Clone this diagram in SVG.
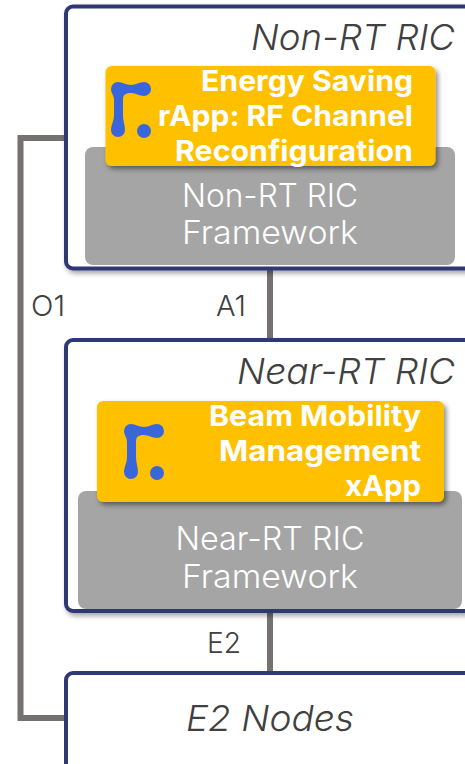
<svg xmlns="http://www.w3.org/2000/svg" width="465" height="764" viewBox="0 0 465 764">
<style>
text{font-family:Inter,"Open Sans","Liberation Sans",sans-serif}
.box{fill:#fff;stroke:#2f3975;stroke-width:4}
.fw{fill:#a5a5a5}
.app{fill:#ffc000;filter:url(#sh)}
.title{font-size:36px;font-weight:300;font-style:italic;fill:#404040}
.fwt{font-size:33px;font-weight:300;fill:#fff;text-anchor:middle}
.appt{font-size:29px;font-weight:700;fill:#fff}
.lbl{font-size:29px;font-weight:300;fill:#404040}
.c{fill:none;stroke:#767171;stroke-width:6}
.logo{fill:#3a66dc}
</style>
<defs>
<filter id="sh" x="-5%" y="-10%" width="112%" height="125%"><feDropShadow dx="2.500" dy="3" stdDeviation="2.500" flood-color="#000" flood-opacity=".45"/></filter>
<filter id="bs" x="-5%" y="-5%" width="112%" height="112%"><feDropShadow dx="2" dy="3" stdDeviation="2.500" flood-color="#000" flood-opacity=".35"/></filter>
<g id="lg">
<circle cx="33" cy="49" r="7"/>
<path d="M7 0C11 0 15 3 20 3C25 3 28 0 33 0A7 7 0 0 1 33 14C28 14 25 11 20 11C14 11 12 13 12 18V33C12 39 14 43 14 48A7 7 0 0 1 0 48C0 43 3 39 3 33V18C3 13 0 11 0 7A7 7 0 0 1 7 0Z"/>
</g>
</defs>
<g id="connectors">
<path class="c" d="M65 138H20.500V718H65"/>
<path class="c" d="M270 268V341"/>
<path class="c" d="M270 610V673"/>
</g>
<g id="non-rt-ric">
<rect class="box" x="66" y="6.500" width="440" height="262" rx="7" filter="url(#bs)"/>
<text class="title" x="455" y="50" text-anchor="end" textLength="204" lengthAdjust="spacingAndGlyphs">Non-RT RIC</text>
<rect class="fw" x="85" y="147" width="370" height="118" rx="8"/>
<text class="fwt" x="270" y="207" textLength="176" lengthAdjust="spacingAndGlyphs">Non-RT RIC</text>
<text class="fwt" x="270" y="244" textLength="176" lengthAdjust="spacingAndGlyphs">Framework</text>
</g>
<g id="energy-saving-rapp">
<rect class="app" x="105.500" y="66" width="330" height="100" rx="6"/>
<use class="logo" href="#lg" x="111" y="82"/>
<text class="appt" x="413" y="91" text-anchor="end" textLength="212" lengthAdjust="spacingAndGlyphs">Energy Saving</text>
<text class="appt" x="413" y="126" text-anchor="end" textLength="255" lengthAdjust="spacingAndGlyphs">rApp: RF Channel</text>
<text class="appt" x="413" y="161" text-anchor="end" textLength="238" lengthAdjust="spacingAndGlyphs">Reconfiguration</text>
</g>
<g id="near-rt-ric">
<rect class="box" x="66" y="340" width="440" height="271" rx="7" filter="url(#bs)"/>
<text class="title" x="455" y="384" text-anchor="end" textLength="218" lengthAdjust="spacingAndGlyphs">Near-RT RIC</text>
<rect class="fw" x="78" y="491" width="384" height="118" rx="8"/>
<text class="fwt" x="270" y="550" textLength="189" lengthAdjust="spacingAndGlyphs">Near-RT RIC</text>
<text class="fwt" x="270" y="588" textLength="176" lengthAdjust="spacingAndGlyphs">Framework</text>
</g>
<g id="beam-mobility-xapp">
<rect class="app" x="97" y="401" width="347" height="101" rx="6"/>
<use class="logo" href="#lg" x="124" y="424"/>
<text class="appt" x="421" y="426" text-anchor="end" textLength="212" lengthAdjust="spacingAndGlyphs">Beam Mobility</text>
<text class="appt" x="421" y="461" text-anchor="end" textLength="202" lengthAdjust="spacingAndGlyphs">Management</text>
<text class="appt" x="421" y="496" text-anchor="end" textLength="76" lengthAdjust="spacingAndGlyphs">xApp</text>
</g>
<g id="e2-nodes">
<rect class="box" x="66" y="673" width="440" height="120" rx="7"/>
<text class="title" x="270" y="731" text-anchor="middle" textLength="168" lengthAdjust="spacingAndGlyphs">E2 Nodes</text>
</g>
<g id="labels">
<text class="lbl" x="31" y="316" textLength="34" lengthAdjust="spacingAndGlyphs">O1</text>
<text class="lbl" x="216" y="316" textLength="30" lengthAdjust="spacingAndGlyphs">A1</text>
<text class="lbl" x="207" y="653" textLength="34" lengthAdjust="spacingAndGlyphs">E2</text>
</g>
</svg>
